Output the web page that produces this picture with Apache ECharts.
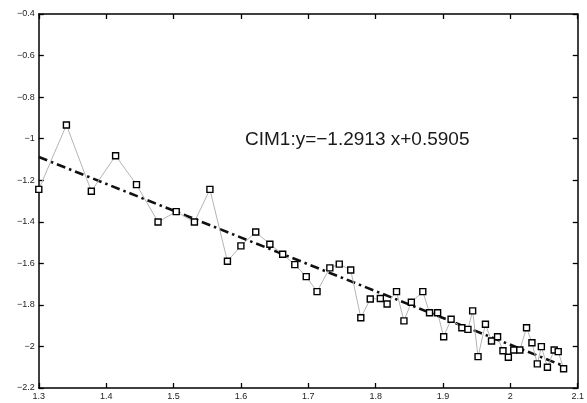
<!DOCTYPE html>
<html>
<head>
<meta charset="utf-8">
<script src="https://cdn.jsdelivr.net/npm/echarts@6/dist/echarts.min.js"></script>
<style>
  html, body { margin: 0; padding: 0; background: #fff; }
  #chart { width: 587px; height: 403px; }
</style>
</head>
<body>
<div id="chart"></div>
<script>
// Measured points (x, y)
const xVals = [1.300, 1.341, 1.378, 1.414, 1.445, 1.477, 1.504, 1.531, 1.554, 1.580,
               1.600, 1.622, 1.643, 1.662, 1.680, 1.697, 1.713, 1.732, 1.746, 1.763,
               1.778, 1.792, 1.807, 1.817, 1.831, 1.842, 1.853, 1.870, 1.880, 1.892,
               1.901, 1.912, 1.928, 1.937, 1.944, 1.952, 1.963, 1.972, 1.981, 1.989,
               1.997, 2.005, 2.014, 2.024, 2.032, 2.040, 2.046, 2.055, 2.065, 2.071,
               2.079];
const yVals = [-1.244, -0.934, -1.253, -1.082, -1.221, -1.401, -1.351, -1.401, -1.244, -1.590,
               -1.516, -1.449, -1.508, -1.556, -1.606, -1.664, -1.736, -1.622, -1.604, -1.632,
               -1.862, -1.772, -1.769, -1.796, -1.736, -1.877, -1.787, -1.736, -1.838, -1.838,
               -1.953, -1.869, -1.910, -1.918, -1.829, -2.049, -1.893, -1.974, -1.953, -2.021,
               -2.052, -2.017, -2.017, -1.910, -1.982, -2.084, -2.001, -2.100, -2.017, -2.025,
               -2.107];

// Linear fit stated in the annotation
const fitSlope = -1.2913;
const fitIntercept = 0.5905;
const fitRange = [1.3, 2.08];
const fitLabel = 'CIM1:y=\u22121.2913 x+0.5905';

// Axis ticks
const xTicks = { min: 1.3, max: 2.1, step: 0.1 };
const yTicks = { min: -2.2, max: -0.4, step: 0.2 };

const points = xVals.map((x, i) => [x, yVals[i]]);
const fitLine = fitRange.map(x => [x, fitSlope * x + fitIntercept]);

const fmt = v => {
  const r = Math.round(v * 10) / 10;
  return String(r).replace('-', '\u2212');
};

const labelStyle = { color: '#222', fontSize: 9, fontFamily: 'Liberation Sans, Arial, sans-serif' };
const frameLine = { show: true, lineStyle: { color: '#000', width: 1.5 } };
const inTick = { show: true, inside: true, length: 5, lineStyle: { color: '#000', width: 1.3 } };

const chart = echarts.init(document.getElementById('chart'), null, { renderer: 'canvas' });
chart.setOption({
  animation: false,
  backgroundColor: '#fff',
  grid: { left: 38.8, right: 6.6, top: 14, bottom: 15 },
  xAxis: [
    {
      type: 'value', position: 'bottom',
      min: xTicks.min, max: xTicks.max, interval: xTicks.step,
      axisLine: frameLine, axisTick: inTick, splitLine: { show: false },
      axisLabel: Object.assign({ margin: 4, formatter: fmt, showMaxLabel: true, showMinLabel: true }, labelStyle)
    },
    {
      type: 'value', position: 'top',
      min: xTicks.min, max: xTicks.max, interval: xTicks.step,
      axisLine: frameLine, axisTick: inTick, splitLine: { show: false },
      axisLabel: { show: false }
    }
  ],
  yAxis: [
    {
      type: 'value', position: 'left',
      min: yTicks.min, max: yTicks.max, interval: yTicks.step,
      axisLine: frameLine, axisTick: inTick, splitLine: { show: false },
      axisLabel: Object.assign({ margin: 4, formatter: fmt, showMaxLabel: true, showMinLabel: true }, labelStyle)
    },
    {
      type: 'value', position: 'right',
      min: yTicks.min, max: yTicks.max, interval: yTicks.step,
      axisLine: frameLine, axisTick: inTick, splitLine: { show: false },
      axisLabel: { show: false }
    }
  ],
  series: [
    {
      name: 'CIM1',
      type: 'line',
      data: points,
      symbol: 'rect',
      symbolSize: 6,
      showAllSymbol: true,
      lineStyle: { color: '#b4b4b4', width: 1 },
      itemStyle: { color: '#fff', borderColor: '#000', borderWidth: 1.4 },
      z: 3
    },
    {
      name: 'fit',
      type: 'line',
      data: fitLine,
      symbol: 'none',
      lineStyle: { color: '#111', width: 2.6, type: [9, 4, 2.5, 4] },
      z: 2
    }
  ],
  graphic: [
    {
      type: 'text',
      left: 245,
      top: 130,
      style: {
        text: fitLabel,
        fill: '#1a1a1a',
        font: '19px "Liberation Sans", Arial, sans-serif'
      }
    }
  ]
});
</script>
</body>
</html>
